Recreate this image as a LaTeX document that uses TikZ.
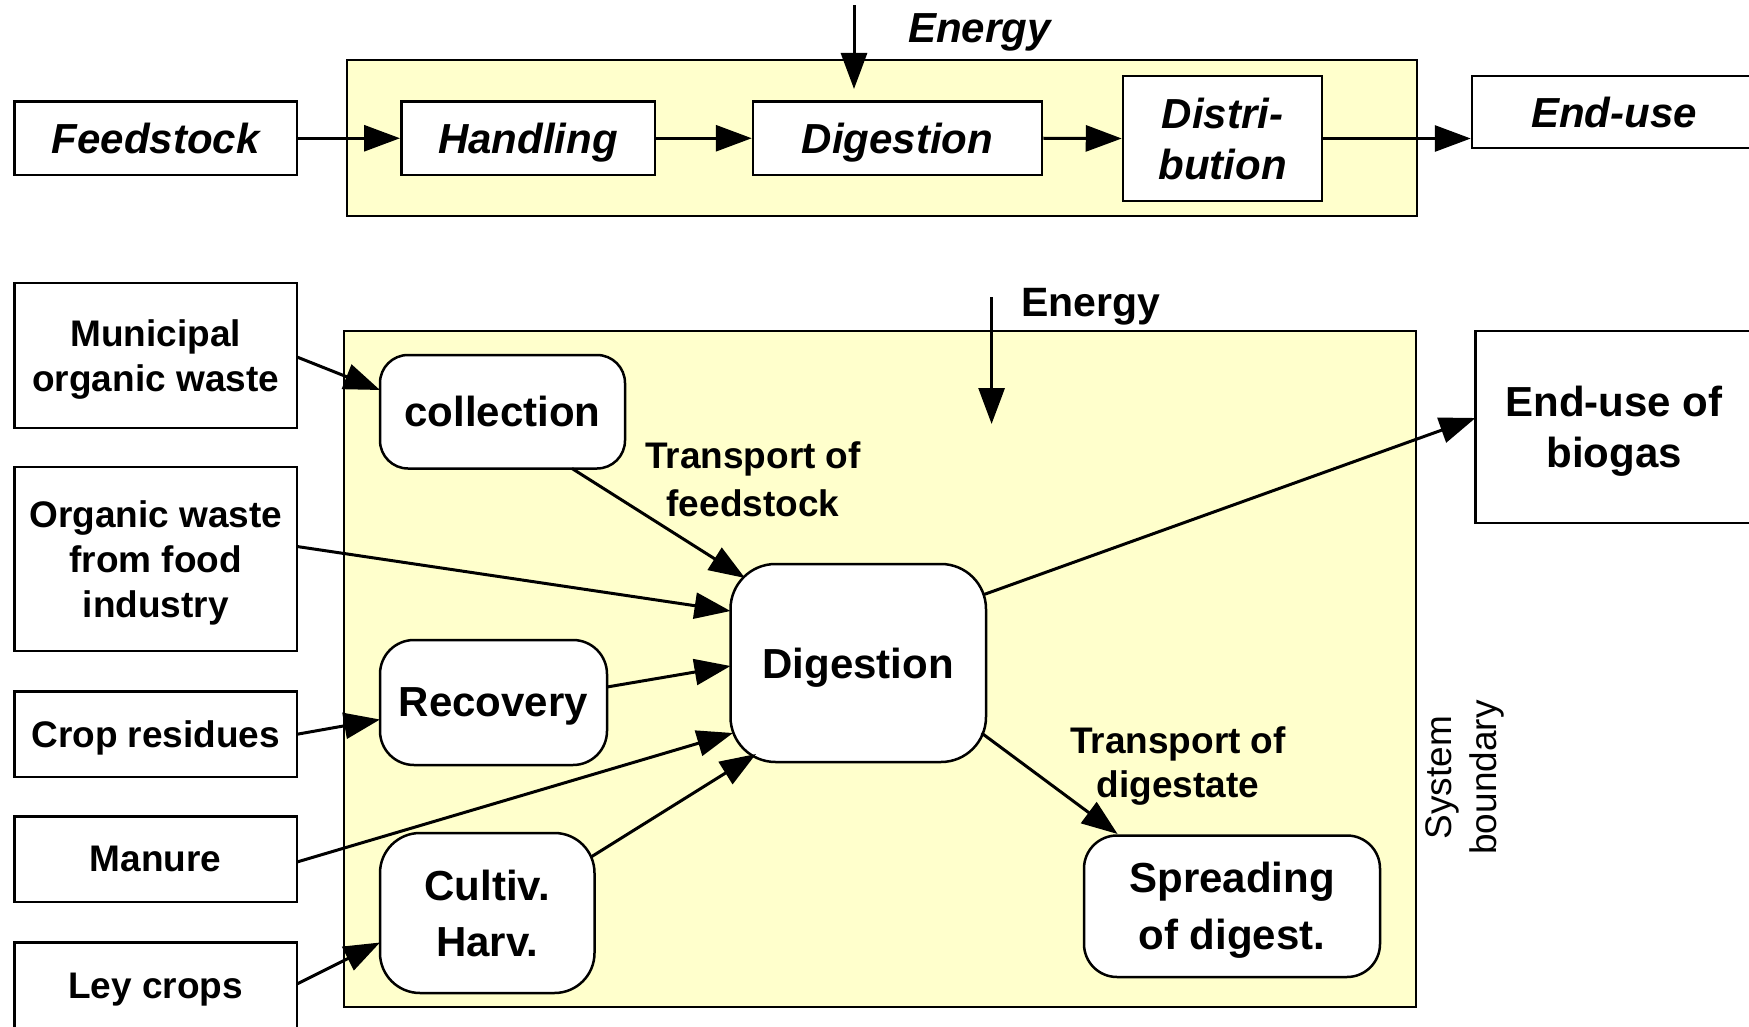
\documentclass[tikz,border=0pt]{standalone}
\usepackage{fontspec}
\setmainfont{Liberation Sans}
\usetikzlibrary{arrows.meta,calc}
\definecolor{sysyellow}{RGB}{255,255,204}
\begin{document}
\begin{tikzpicture}[x=1pt,y=-1pt,
  inbox/.style={draw,line width=2.5pt,fill=white,minimum width=282.5pt,inner sep=0pt,text depth=0pt,align=center,font=\fontsize{37}{44.6}\selectfont\bfseries},
  topbox/.style={draw,line width=2.5pt,fill=white,inner sep=0pt,text depth=0pt,align=center,font=\fontsize{42}{51}\selectfont\bfseries\itshape},
  procbox/.style={draw,line width=2.5pt,fill=white,rounded corners=#1,inner sep=0pt,text depth=0pt,align=center,font=\fontsize{42}{56}\selectfont\bfseries},
  sysbox/.style={draw,line width=2pt,fill=sysyellow,inner sep=0pt},
  flow/.style={line width=3pt,-{Triangle[length=36pt,width=26pt]}},
  lbl/.style={align=center,inner sep=0pt,text depth=0pt,font=\fontsize{37}{48}\selectfont\bfseries}
]
\useasboundingbox[fill=white] (0,0) rectangle (1749,1027);

% ---------- top scheme ----------
\node[sysbox,minimum width=1069.5pt,minimum height=156pt] (sys1) at (881.75,138) {};
\node[topbox,minimum width=282.5pt,minimum height=73.5pt] (feed) at (155.75,138.25) {Feedstock};
\node[topbox,minimum width=253.5pt,minimum height=73.5pt] (handl) at (528,138.25) {Handling};
\node[topbox,minimum width=289pt,minimum height=73.5pt] (dig1) at (897.5,138.25) {Digestion};
\node[topbox,minimum width=199pt,minimum height=125pt] (distr) at (1222.5,138.5) {Distri-\\bution};
\node[topbox,minimum width=284pt,minimum height=72pt] (enduse1) at (1614,112) {End-use};
\node[font=\fontsize{42}{51}\selectfont\bfseries\itshape,inner sep=0pt,text depth=0pt] (en1) at (979.5,28) {Energy};
\coordinate (e1a) at (854,5.5);
\coordinate (e1b) at (854,89);

\draw[flow] (feed.east) -- (handl.west);
\draw[flow] (handl.east) -- (dig1.west);
\draw[flow] (dig1.east) -- (distr.west);
\draw[flow] (distr.east) -- (distr.east -| enduse1.west);
\draw[flow] (e1a) -- (e1b);

% ---------- bottom scheme ----------
\node[sysbox,minimum width=1072pt,minimum height=676pt] (sys2) at (879.5,669) {};
\node[inbox,minimum height=145pt] (muni) at (155.75,355.5) {Municipal\\organic waste};
\node[inbox,minimum height=184pt] (food) at (155.75,559) {Organic waste\\from food\\industry};
\node[inbox,minimum height=85.5pt] (crop) at (155.75,734.25) {Crop residues};
\node[inbox,minimum height=85.5pt] (manure) at (155.75,859.25) {Manure};
\node[inbox,minimum height=86pt] (ley) at (155.75,985.5) {Ley crops};

\node[procbox=28pt,minimum width=245pt,minimum height=113.5pt] (coll) at (502.5,411.75) {collection};
\node[procbox=34pt,minimum width=227pt,minimum height=125pt] (recov) at (493.5,702.5) {Recovery};
\node[procbox=40pt,minimum width=214.5pt,minimum height=160pt] (cult) at (487.25,913) {Cultiv.\\Harv.};
\node[procbox=45pt,minimum width=255.5pt,minimum height=198pt] (dig2) at (858.25,663) {Digestion};
\node[procbox=33pt,minimum width=296pt,minimum height=141.5pt,font=\fontsize{42}{57}\selectfont\bfseries] (spread) at (1232,906.25) {Spreading\\of digest.};
\node[draw,line width=2.5pt,fill=white,inner sep=0pt,text depth=-5pt,align=center,minimum width=277pt,minimum height=192pt,font=\fontsize{42}{51}\selectfont\bfseries] (endbio) at (1614,427) {End-use of\\biogas};

\node[lbl] (tfeed) at (753,479) {Transport of\\feedstock};
\node[lbl,font=\fontsize{37}{44.6}\selectfont\bfseries] (tdig) at (1178,762) {Transport of\\digestate};
\node[font=\fontsize{41}{49}\selectfont\bfseries,inner sep=0pt,text depth=0pt] (en2) at (1091,302) {Energy};
\node[rotate=90,align=center,inner sep=0pt,text depth=0pt,font=\fontsize{37}{44.6}\selectfont] (sysb) at (1461,777.5) {System\\boundary};
\coordinate (e2a) at (991.6,297);
\coordinate (e2b) at (991.6,424);

\draw[flow] (e2a) -- (e2b);
\draw[flow] ($(muni.center)+(141.25,1.5)$) -- ($(coll.center)+(-122.5,-21.75)$);
\draw[flow] ($(food.center)+(141.25,-12.5)$) -- ($(dig2.center)+(-127.75,-52)$);
\draw[flow] ($(coll.center)+(69.5,56.75)$) -- ($(dig2.center)+(-113.25,-85)$);
\draw[flow] ($(crop.center)+(141.25,0)$) -- ($(recov.center)+(-113.5,17)$);
\draw[flow] ($(recov.center)+(113.5,-15.5)$) -- ($(dig2.center)+(-127.75,3)$);
\draw[flow] ($(manure.center)+(141.25,2.75)$) -- ($(dig2.center)+(-125.25,70)$);
\draw[flow] ($(cult.center)+(103.75,-56)$) -- ($(dig2.center)+(-102.25,91)$);
\draw[flow] ($(ley.center)+(141.25,-1.5)$) -- ($(cult.center)+(-107.25,29.5)$);
\draw[flow] ($(dig2.center)+(125.75,-68.5)$) -- ($(endbio.center)+(-138.5,-9)$);
\draw[flow] ($(dig2.center)+(123.25,70)$) -- ($(spread.center)+(-114.4,-72.25)$);
\end{tikzpicture}
\end{document}
